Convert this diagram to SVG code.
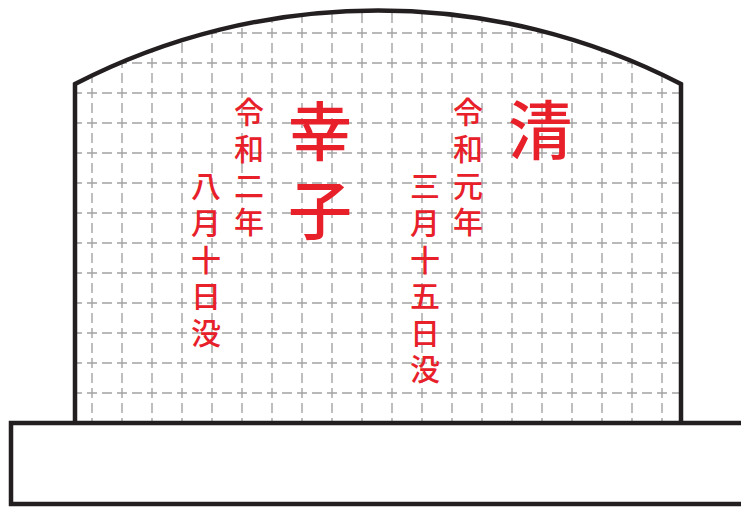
<svg xmlns="http://www.w3.org/2000/svg" width="741" height="507" viewBox="0 0 741 507">
<defs>
<clipPath id="stoneClip"><path d="M75,84 A661,661 0 0 1 681,84 L681,422 L75,422 Z"/></clipPath>
<style>
.outline{fill:none;stroke:#231f20;stroke-width:4.5;stroke-linejoin:miter}
.gh{stroke:#a3a3a3;stroke-width:1.4;stroke-dasharray:10 5;fill:none}
.gv{stroke:#a3a3a3;stroke-width:1.4;stroke-dasharray:10 5;fill:none}
.col{font-family:"Noto Sans CJK JP","Noto Sans CJK SC",sans-serif;font-weight:500;fill:#e8202a;writing-mode:vertical-rl;text-orientation:upright}
.big{font-size:64px;letter-spacing:15px}
.small{font-size:30px;letter-spacing:6.6px}
</style>
</defs>
<rect width="741" height="507" fill="#ffffff"/>
<g id="grid" clip-path="url(#stoneClip)">
<path class="gh" d="M72,33H690M72,63H690M72,93H690M72,123H690M72,153H690M72,183H690M72,213H690M72,243H690M72,273H690M72,303H690M72,333H690M72,363H690M72,393H690"/>
<path class="gv" d="M92,-2V424M122,-2V424M152,-2V424M182,-2V424M212,-2V424M242,-2V424M272,-2V424M302,-2V424M332,-2V424M362,-2V424M392,-2V424M422,-2V424M452,-2V424M482,-2V424M512,-2V424M542,-2V424M572,-2V424M602,-2V424M632,-2V424M662,-2V424"/>
</g>
<g id="stone">
<path class="outline" d="M75,422 L75,84 A661,661 0 0 1 681,84 L681,422"/>
</g>
<g id="base">
<path class="outline" d="M745,423 L11,423 L11,504 L745,504"/>
</g>
<g id="name-kiyoshi"><text class="col big" x="540" y="98">清</text></g>
<g id="date-kiyoshi-year"><text class="col small" x="468" y="97">令和元年</text></g>
<g id="date-kiyoshi-day"><text class="col small" x="425" y="171">三月十五日没</text></g>
<g id="name-sachiko"><text class="col big" x="320" y="99">幸子</text></g>
<g id="date-sachiko-year"><text class="col small" x="249" y="97">令和二年</text></g>
<g id="date-sachiko-day"><text class="col small" x="206" y="171">八月十日没</text></g>
</svg>
